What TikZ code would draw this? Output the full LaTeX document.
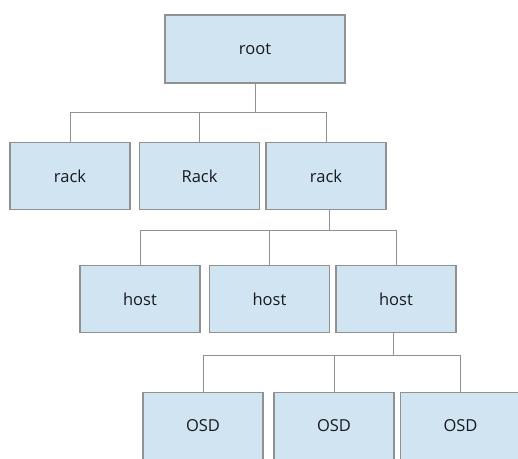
\documentclass[tikz,border=0pt]{standalone}
\usepackage{fontspec}
\setmainfont{Open Sans}
\definecolor{boxblue}{RGB}{208, 228, 242}
\definecolor{linegray}{RGB}{145, 145, 145}
\definecolor{textdark}{RGB}{25, 25, 30}

\begin{document}
\begin{tikzpicture}[x=1pt, y=-1pt,
    crushbox/.style={draw=linegray, line width=1.1pt, fill=boxblue, text=textdark,
      minimum width=120pt, minimum height=67pt, inner sep=0pt, font=\fontsize{16.5}{20}\selectfont},
    link/.style={draw=linegray, line width=1pt}]
                    \useasboundingbox (0,0) rectangle (518,458);
                    % root
                    \node[crushbox, minimum width=180pt, minimum height=68pt] (root) at (255,49) {root};
                    % racks
                    \node[crushbox] (rack1) at (70,176) {rack};
                    \node[crushbox] (rack2) at (199.5,176) {Rack};
                    \node[crushbox] (rack3) at (326,176) {rack};
                    % hosts
                    \node[crushbox] (host1) at (140,299) {host};
                    \node[crushbox] (host2) at (269.5,299) {host};
                    \node[crushbox] (host3) at (396,299) {host};
                    % osds
                    \node[crushbox] (osd1) at (203,426) {OSD};
                    \node[crushbox] (osd2) at (334,426) {OSD};
                    \node[crushbox] (osd3) at (460.5,426) {OSD};
                    % connectors
                    \coordinate (j1) at (255.5,112);
                    \coordinate (j2) at (329.5,230);
                    \coordinate (j3) at (393.5,355.5);
                    \draw[link] (root.south -| j1) -- (j1);
                    \draw[link] (j1) -| (rack1);
                    \draw[link] (j1) -| (rack2);
                    \draw[link] (j1) -| (rack3);
                    \draw[link] (rack3.south -| j2) -- (j2);
                    \draw[link] (j2) -| (host1);
                    \draw[link] (j2) -| (host2);
                    \draw[link] (j2) -| (host3);
                    \draw[link] (host3.south -| j3) -- (j3);
                    \draw[link] (j3) -| (osd1);
                    \draw[link] (j3) -| (osd2);
                    \draw[link] (j3) -| (osd3);
                \end{tikzpicture}
\end{document}
